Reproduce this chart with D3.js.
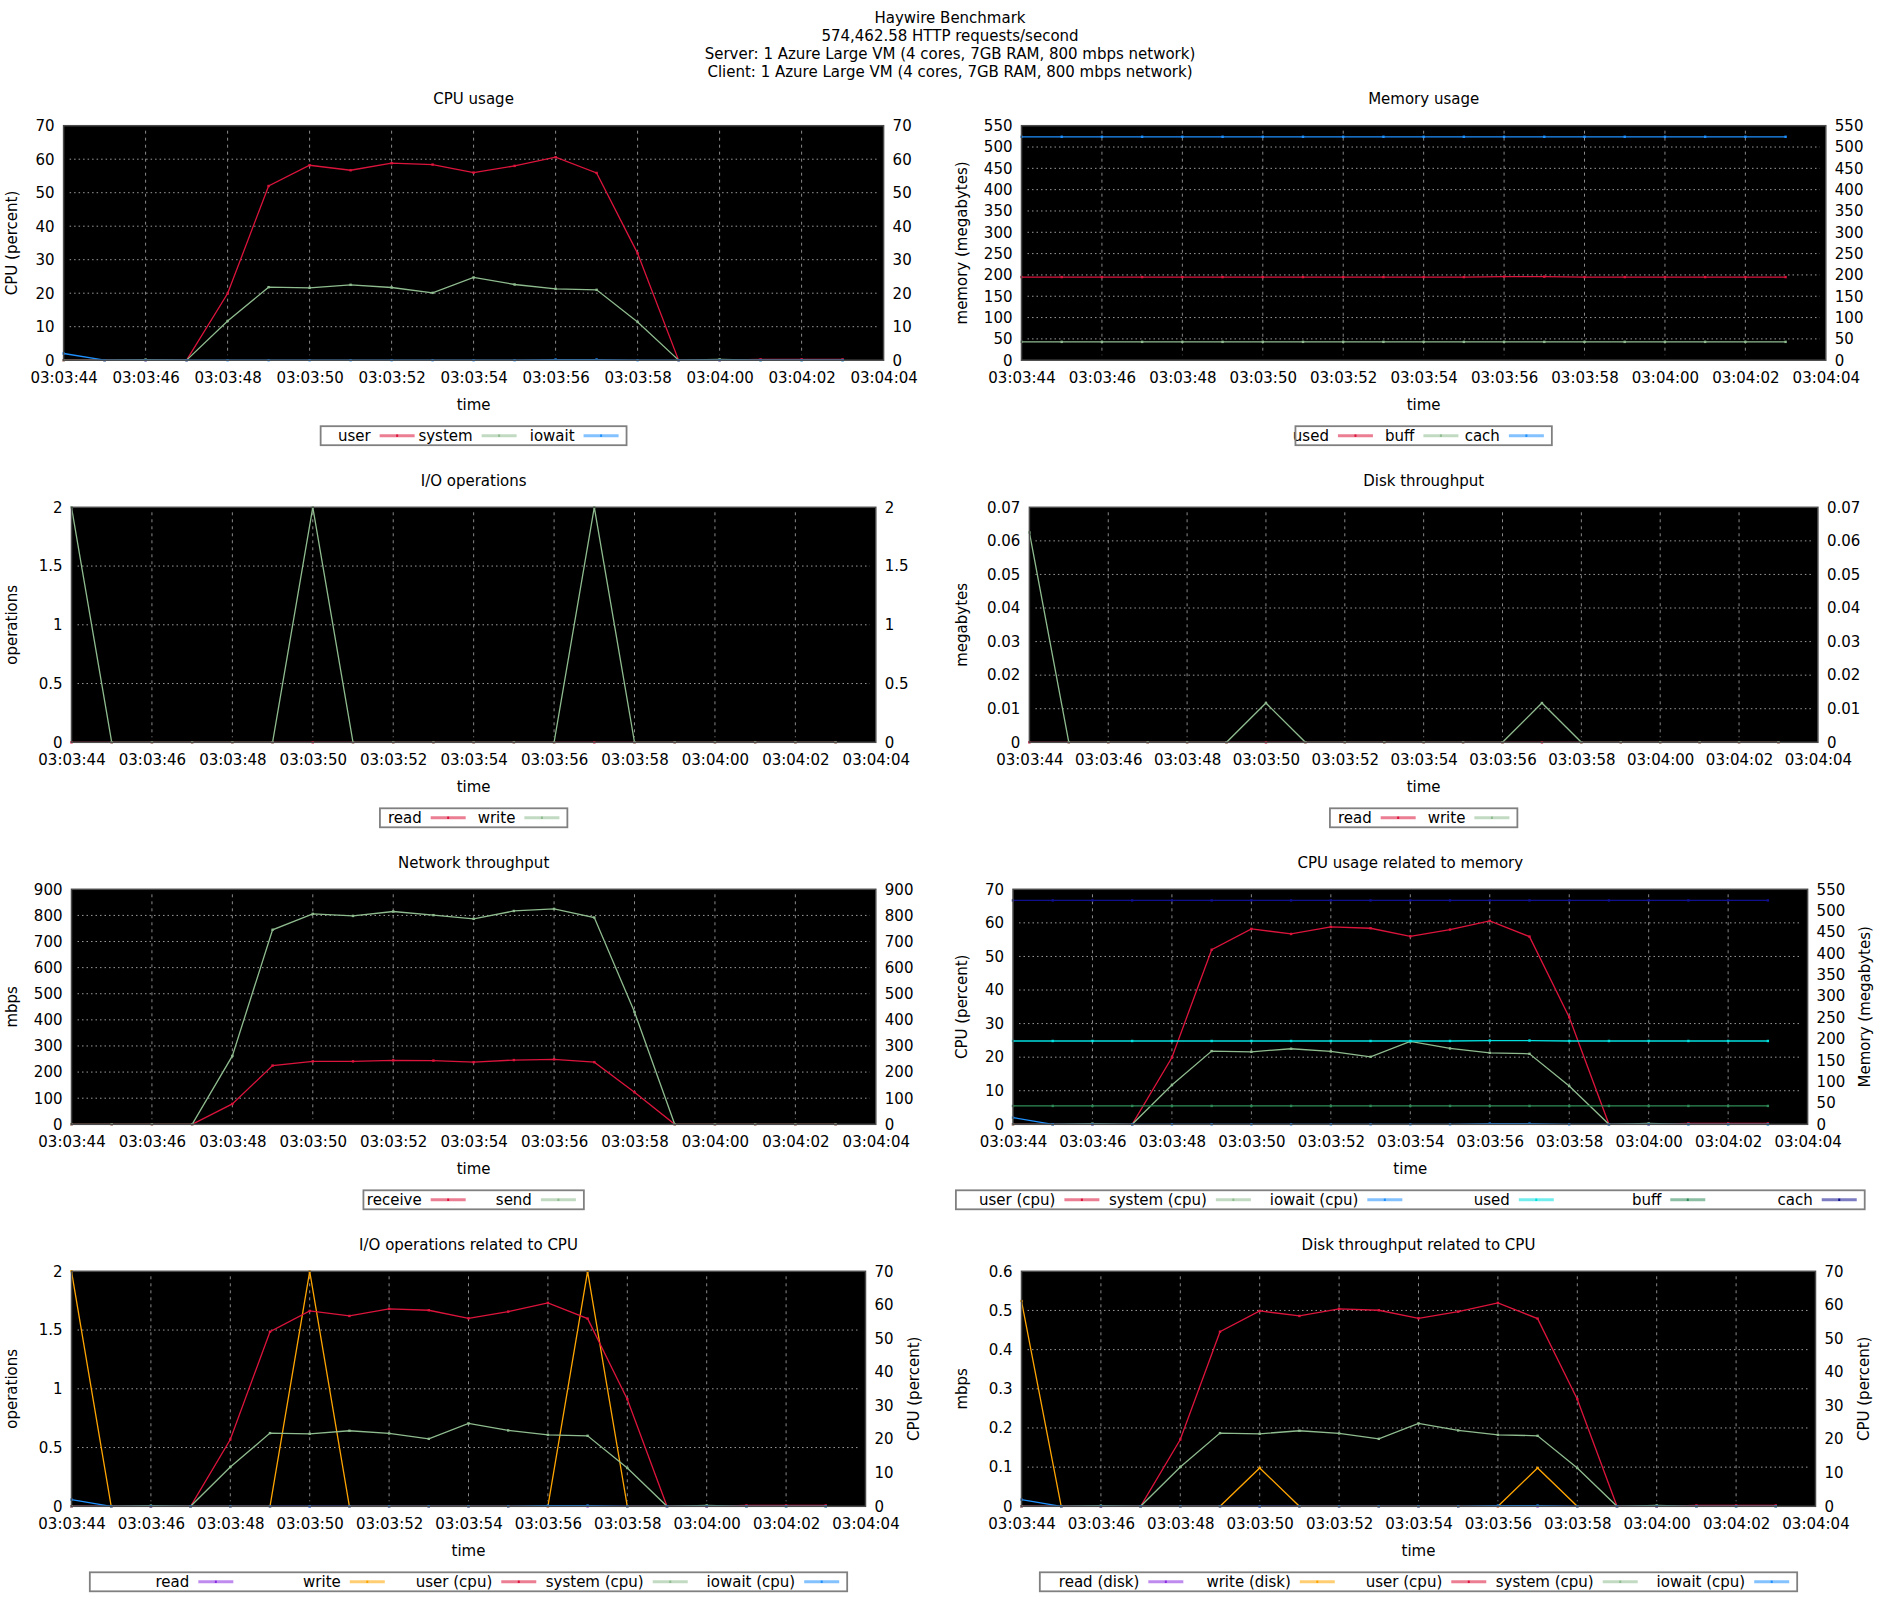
<!DOCTYPE html>
<html><head><meta charset="utf-8">
<script src="https://cdn.jsdelivr.net/npm/d3@7"></script>
<style>
body{margin:0;background:#fff;}
text{font-family:"DejaVu Sans",sans-serif;font-size:15px;fill:#000;}
</style></head><body>
<svg id="c" width="1900" height="1600"></svg>
<script>
// ---------- data ----------
const titleLines = [
  "Haywire Benchmark",
  "574,462.58 HTTP requests/second",
  "Server: 1 Azure Large VM (4 cores, 7GB RAM, 800 mbps network)",
  "Client: 1 Azure Large VM (4 cores, 7GB RAM, 800 mbps network)"
];
const times = ["03:03:44","03:03:45","03:03:46","03:03:47","03:03:48","03:03:49","03:03:50","03:03:51","03:03:52","03:03:53",
               "03:03:54","03:03:55","03:03:56","03:03:57","03:03:58","03:03:59","03:04:00","03:04:01","03:04:02","03:04:03"];
const xTickLabels = ["03:03:44","03:03:46","03:03:48","03:03:50","03:03:52","03:03:54","03:03:56","03:03:58","03:04:00","03:04:02","03:04:04"];

const cpuUser   = [0, 0, 0, 0, 19.9, 52.0, 58.2, 56.7, 58.8, 58.4, 56.0, 58.0, 60.6, 55.9, 31.9, 0, 0, 0.25, 0.25, 0.25];
const cpuSystem = [0, 0, 0.2, 0, 11.7, 21.8, 21.6, 22.5, 21.7, 20.1, 24.7, 22.6, 21.3, 21.0, 11.4, 0, 0.25, 0, 0, 0];
const cpuIowait = [2.0, 0, 0, 0, 0, 0, 0, 0, 0, 0, 0, 0, 0.2, 0.2, 0, 0, 0, 0, 0, 0];

const memUsed = [195, 195, 195, 195, 195, 195, 195, 195, 195, 195, 195, 195, 196, 196, 195, 195, 195, 195, 195, 195];
const memBuff = [43, 43, 43, 43, 43, 43, 43, 43, 43, 43, 43, 43, 43, 43, 43, 43, 43, 43, 43, 43];
const memCach = [524, 524, 524, 524, 524, 524, 524, 524, 524, 524, 524, 524, 524, 524, 524, 524, 524, 524, 524, 524];

const ioRead  = [0, 0, 0, 0, 0, 0, 0, 0, 0, 0, 0, 0, 0, 0, 0, 0, 0, 0, 0, 0];
const ioWrite = [2, 0, 0, 0, 0, 0, 2, 0, 0, 0, 0, 0, 0, 2, 0, 0, 0, 0, 0, 0];

const diskReadMB  = [0, 0, 0, 0, 0, 0, 0, 0, 0, 0, 0, 0, 0, 0, 0, 0, 0, 0, 0, 0];
const diskWriteMB = [0.0625, 0, 0, 0, 0, 0, 0.0117, 0, 0, 0, 0, 0, 0, 0.0117, 0, 0, 0, 0, 0, 0];

const diskReadMbps  = [0, 0, 0, 0, 0, 0, 0, 0, 0, 0, 0, 0, 0, 0, 0, 0, 0, 0, 0, 0];
const diskWriteMbps = [0.524, 0, 0, 0, 0, 0, 0.098, 0, 0, 0, 0, 0, 0, 0.098, 0, 0, 0, 0, 0, 0];

const netReceive = [0, 0, 0, 0, 78, 225, 241, 241, 245, 244, 238, 246, 249, 238, 123, 0, 0, 0, 0, 0];
const netSend    = [0, 0, 0, 0, 262, 745, 806, 798, 815, 801, 787, 817, 825, 792, 430, 0, 0, 0, 0, 0];

const cpuTicks  = [0, 10, 20, 30, 40, 50, 60, 70];
const memTicks  = [0, 50, 100, 150, 200, 250, 300, 350, 400, 450, 500, 550];
const opsTicks  = [0, 0.5, 1, 1.5, 2];
const mbTicks   = [0, 0.01, 0.02, 0.03, 0.04, 0.05, 0.06, 0.07];
const netTicks  = [0, 100, 200, 300, 400, 500, 600, 700, 800, 900];
const mbpsTicks = [0, 0.1, 0.2, 0.3, 0.4, 0.5, 0.6];

// ---------- colours ----------
const C = {
  red: "#dc143c", green: "#8fbc8f", blue: "#1e90ff",
  cyan: "#00e0e0", seagreen: "#2e8b57", navy: "#10108f",
  purple: "#8a2be2", orange: "#ffa500"
};

// ---------- panels ----------
const parse = d3.timeParse("%H:%M:%S");
const tDates = times.map(parse);
const xTicks = xTickLabels.map(parse);

const panels = [
  {title:"CPU usage", x0:63.6, x1:883.6, top:125.7, h:234.5, lt:12,
   left:{ticks:cpuTicks, label:"CPU (percent)"}, right:{ticks:cpuTicks},
   series:[{name:"user",v:cpuUser,c:C.red},{name:"system",v:cpuSystem,c:C.green},{name:"iowait",v:cpuIowait,c:C.blue}]},
  {title:"Memory usage", x0:1021.5, x1:1825.8, top:125.7, h:234.5, lt:962,
   left:{ticks:memTicks, label:"memory (megabytes)"}, right:{ticks:memTicks},
   series:[{name:"used",v:memUsed,c:C.red},{name:"buff",v:memBuff,c:C.green},{name:"cach",v:memCach,c:C.blue}]},
  {title:"I/O operations", x0:71.5, x1:875.8, top:507.3, h:235, lt:12,
   left:{ticks:opsTicks, label:"operations"}, right:{ticks:opsTicks},
   series:[{name:"read",v:ioRead,c:C.red},{name:"write",v:ioWrite,c:C.green}]},
  {title:"Disk throughput", x0:1029.4, x1:1817.9, top:507.3, h:235, lt:962,
   left:{ticks:mbTicks, label:"megabytes"}, right:{ticks:mbTicks},
   series:[{name:"read",v:diskReadMB,c:C.red},{name:"write",v:diskWriteMB,c:C.green}]},
  {title:"Network throughput", x0:71.5, x1:875.8, top:889.3, h:235, lt:12,
   left:{ticks:netTicks, label:"mbps"}, right:{ticks:netTicks},
   series:[{name:"receive",v:netReceive,c:C.red},{name:"send",v:netSend,c:C.green}]},
  {title:"CPU usage related to memory", x0:1013, x1:1807.6, top:889.3, h:235, lt:962, rt:1865,
   left:{ticks:cpuTicks, label:"CPU (percent)"}, right:{ticks:memTicks, label:"Memory (megabytes)", own:true},
   series:[{name:"user (cpu)",v:cpuUser,c:C.red},{name:"system (cpu)",v:cpuSystem,c:C.green},{name:"iowait (cpu)",v:cpuIowait,c:C.blue},
           {name:"used",v:memUsed,c:C.cyan,ax:"r"},{name:"buff",v:memBuff,c:C.seagreen,ax:"r"},{name:"cach",v:memCach,c:C.navy,ax:"r"}]},
  {title:"I/O operations related to CPU", x0:71.5, x1:865.5, top:1271.3, h:235, lt:12, rt:914,
   left:{ticks:opsTicks, label:"operations"}, right:{ticks:cpuTicks, label:"CPU (percent)", own:true},
   series:[{name:"read",v:ioRead,c:C.purple},{name:"write",v:ioWrite,c:C.orange},
           {name:"user (cpu)",v:cpuUser,c:C.red,ax:"r"},{name:"system (cpu)",v:cpuSystem,c:C.green,ax:"r"},{name:"iowait (cpu)",v:cpuIowait,c:C.blue,ax:"r"}]},
  {title:"Disk throughput related to CPU", x0:1021.5, x1:1815.5, top:1271.3, h:235, lt:962, rt:1864,
   left:{ticks:mbpsTicks, label:"mbps"}, right:{ticks:cpuTicks, label:"CPU (percent)", own:true},
   series:[{name:"read (disk)",v:diskReadMbps,c:C.purple},{name:"write (disk)",v:diskWriteMbps,c:C.orange},
           {name:"user (cpu)",v:cpuUser,c:C.red,ax:"r"},{name:"system (cpu)",v:cpuSystem,c:C.green,ax:"r"},{name:"iowait (cpu)",v:cpuIowait,c:C.blue,ax:"r"}]}
];

const svg = d3.select("#c");

// main title
svg.append("g").selectAll("text").data(titleLines).join("text")
  .attr("x", 950).attr("y", (d,i)=>22.5 + i*18)
  .attr("text-anchor","middle").text(d=>d);

const fmt = d => String(d);

panels.forEach(p => {
  const g = svg.append("g");
  const bottom = p.top + p.h;
  const x = d3.scaleTime().domain([xTicks[0], xTicks[xTicks.length-1]]).range([p.x0, p.x1]);
  const lt = p.left.ticks, rt = p.right.ticks;
  const yL = d3.scaleLinear().domain([lt[0], lt[lt.length-1]]).range([bottom, p.top]);
  const yR = d3.scaleLinear().domain([rt[0], rt[rt.length-1]]).range([bottom, p.top]);

  // plot background
  g.append("rect").attr("x",p.x0).attr("y",p.top).attr("width",p.x1-p.x0).attr("height",p.h).attr("fill","#000");

  // grid
  const grid = g.append("g");
  lt.slice(1, -1).forEach(t => {
    grid.append("line").attr("x1",p.x0+6).attr("x2",p.x1-6).attr("y1",yL(t)).attr("y2",yL(t))
      .attr("stroke","#9a9a9a").attr("stroke-width",1).attr("stroke-dasharray","1.5,3");
  });
  xTicks.slice(1, -1).forEach(t => {
    grid.append("line").attr("x1",x(t)).attr("x2",x(t)).attr("y1",p.top+5).attr("y2",bottom-5)
      .attr("stroke","#8a8a8a").attr("stroke-width",1).attr("stroke-dasharray","3,4");
  });

  // series
  p.series.forEach(s => {
    const y = s.ax === "r" ? yR : yL;
    const pts = s.v.map((v,i)=>[tDates[i], v]);
    g.append("path").datum(pts)
      .attr("d", d3.line().x(d=>x(d[0])).y(d=>y(d[1])))
      .attr("fill","none").attr("stroke",s.c).attr("stroke-width",1.3);
    g.append("g").selectAll("rect").data(pts).join("rect")
      .attr("x", d=>x(d[0])-1.2).attr("y", d=>y(d[1])-1.2).attr("width",2.4).attr("height",2.4)
      .attr("fill", s.c);
  });

  // border
  g.append("rect").attr("x",p.x0).attr("y",p.top).attr("width",p.x1-p.x0).attr("height",p.h)
    .attr("fill","none").attr("stroke","#4a4a4a").attr("stroke-width",1.5);

  // axes
  const axB = d3.axisBottom(x).tickValues(xTicks).tickFormat(d3.timeFormat("%H:%M:%S")).tickSize(0).tickPadding(12);
  const axL = d3.axisLeft(yL).tickValues(lt).tickFormat(fmt).tickSize(0).tickPadding(9);
  const axR = d3.axisRight(p.right.own ? yR : yL).tickValues(rt).tickFormat(fmt).tickSize(0).tickPadding(9);
  [[axB, `translate(0,${bottom})`],[axL, `translate(${p.x0},0)`],[axR, `translate(${p.x1},0)`]].forEach(([ax, tr]) => {
    const ag = g.append("g").attr("transform", tr).call(ax);
    ag.select(".domain").remove();
    ag.selectAll("text").attr("font-family","DejaVu Sans, sans-serif").attr("font-size",15).attr("fill","#000");
  });

  const cx = (p.x0 + p.x1) / 2, cy = (p.top + bottom) / 2;
  // titles
  g.append("text").attr("x",cx).attr("y",p.top-21.5).attr("text-anchor","middle").text(p.title);
  g.append("text").attr("x",cx).attr("y",bottom+49.5).attr("text-anchor","middle").text("time");
  g.append("text").attr("transform",`translate(${p.lt + 5},${cy}) rotate(-90)`).attr("text-anchor","middle").text(p.left.label);
  if (p.right.label) {
    g.append("text").attr("transform",`translate(${p.rt + 5},${cy}) rotate(-90)`).attr("text-anchor","middle").text(p.right.label);
  }

  // legend
  const hc = 8.25, kc = 6.36;
  const maxChars = d3.max(p.series, s => s.name.length);
  const colW = (maxChars + kc) * hc;
  const boxW = colW * p.series.length;
  const bx = cx - boxW / 2, by = bottom + 66;
  const lg = g.append("g");
  lg.append("rect").attr("x",bx).attr("y",by).attr("width",boxW).attr("height",19).attr("fill","#fff");
  p.series.forEach((s,i) => {
    const te = bx + i*colW + maxChars*hc + 0.5;
    lg.append("text").attr("x",te).attr("y",by+15).attr("text-anchor","end").text(s.name);
    lg.append("line").attr("x1",te+9).attr("x2",te+44).attr("y1",by+9.5).attr("y2",by+9.5)
      .attr("stroke",s.c).attr("stroke-opacity",0.55).attr("stroke-width",3);
    lg.append("rect").attr("x",te+25.5).attr("y",by+8.3).attr("width",2).attr("height",2.4).attr("fill",s.c);
  });
  lg.append("rect").attr("x",bx).attr("y",by).attr("width",boxW).attr("height",19)
    .attr("fill","none").attr("stroke","#808080").attr("stroke-width",1.8);
});
</script>
</body></html>
